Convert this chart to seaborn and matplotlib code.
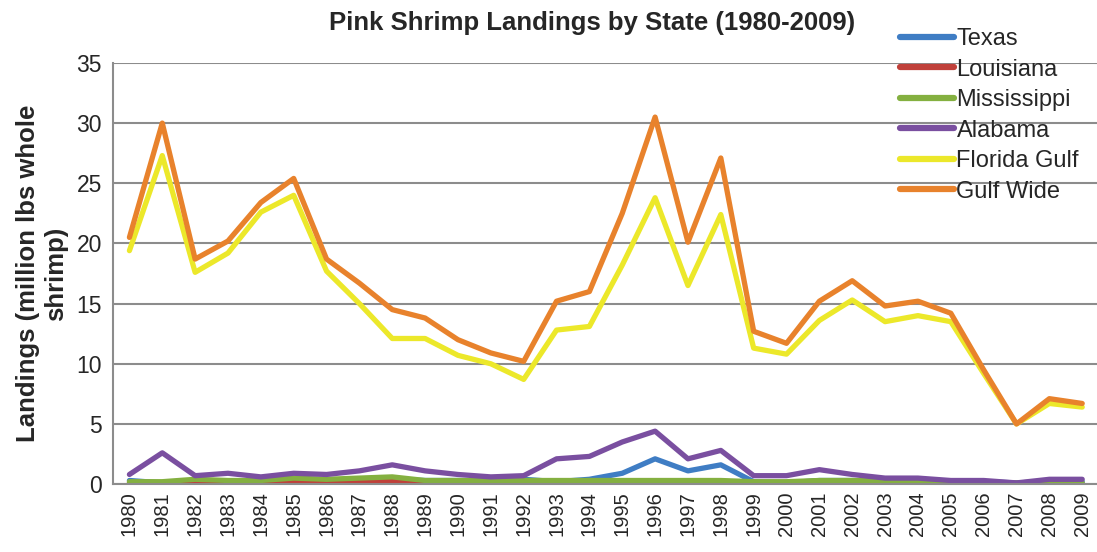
import numpy as np
import pandas as pd
import seaborn as sns
import matplotlib.pyplot as plt

years = list(range(1980, 2010))

texas = [0.3, 0.1, 0.2, 0.2, 0.2, 0.3, 0.2, 0.3, 0.4, 0.3, 0.3, 0.3, 0.4, 0.2, 0.4, 0.9,
         2.1, 1.1, 1.6, 0.2, 0.1, 0.3, 0.3, 0.2, 0.2, 0.2, 0.2, 0.1, 0.2, 0.2]
louisiana = [0.1, 0.0, 0.1, 0.1, 0.1, 0.3, 0.1, 0.2, 0.3, 0.1, 0.0, 0.0, 0.0, 0.0, 0.0, 0.0,
             0.1, 0.1, 0.1, 0.0, 0.0, 0.0, 0.0, 0.0, 0.0, 0.0, 0.0, 0.0, 0.0, 0.0]
mississippi = [0.2, 0.2, 0.4, 0.3, 0.3, 0.5, 0.4, 0.5, 0.6, 0.3, 0.3, 0.3, 0.3, 0.3, 0.3, 0.3,
               0.3, 0.3, 0.3, 0.2, 0.2, 0.3, 0.3, 0.3, 0.3, 0.2, 0.1, 0.1, 0.2, 0.1]
alabama = [0.8, 2.6, 0.7, 0.9, 0.6, 0.9, 0.8, 1.1, 1.6, 1.1, 0.8, 0.6, 0.7, 2.1, 2.3, 3.5,
           4.4, 2.1, 2.8, 0.7, 0.7, 1.2, 0.8, 0.5, 0.5, 0.3, 0.3, 0.1, 0.4, 0.4]
florida_gulf = [19.4, 27.3, 17.6, 19.2, 22.6, 24.0, 17.7, 15.0, 12.1, 12.1, 10.7, 10.0, 8.7,
                12.8, 13.1, 18.2, 23.8, 16.5, 22.4, 11.3, 10.8, 13.6, 15.3, 13.5, 14.0, 13.5,
                9.2, 5.0, 6.7, 6.4]
gulf_wide = [20.5, 30.0, 18.7, 20.2, 23.4, 25.4, 18.7, 16.7, 14.5, 13.8, 12.0, 10.9, 10.2,
             15.2, 16.0, 22.5, 30.5, 20.1, 27.1, 12.7, 11.7, 15.2, 16.9, 14.8, 15.2, 14.2,
             9.5, 5.0, 7.1, 6.7]

states = ["Texas", "Louisiana", "Mississippi", "Alabama", "Florida Gulf", "Gulf Wide"]
series = [texas, louisiana, mississippi, alabama, florida_gulf, gulf_wide]
colors = ["#3F7DC4", "#C0403A", "#84B040", "#7A4FA0", "#ECE82A", "#E8822C"]

rows = []
for name, vals in zip(states, series):
    for i, (y, v) in enumerate(zip(years, vals)):
        rows.append({"pos": i, "Year": y, "State": name, "Landings": v})
df = pd.DataFrame(rows)

sns.set_style("white")
plt.rcParams["font.family"] = ["Liberation Sans", "DejaVu Sans"]

fig = plt.figure(figsize=(10.97, 5.52), dpi=100)
ax = fig.add_axes([0.103, 0.123, 0.897, 0.763])

sns.lineplot(data=df, x="pos", y="Landings", hue="State", hue_order=states,
             palette=colors, linewidth=3.8, ax=ax)

ax.set_xlim(-0.5, 29.45)
ax.set_ylim(0, 35)
ax.set_yticks(range(0, 36, 5))
ax.set_xticks(range(len(years)))
ax.set_xticklabels([str(y) for y in years], rotation=90, fontsize=14.5)
ax.tick_params(axis="y", labelsize=16.5, length=0, pad=8)
ax.tick_params(axis="x", length=0, pad=5)
ax.yaxis.grid(True, color="#8c8c8c", linewidth=1.5)
ax.set_axisbelow(True)
for s in ["top", "right"]:
    ax.spines[s].set_visible(False)
ax.spines["left"].set_color("#8c8c8c")
ax.spines["left"].set_linewidth(1.5)
ax.spines["bottom"].set_color("#8c8c8c")
ax.spines["bottom"].set_linewidth(1.5)

ax.set_xlabel("")
ax.set_ylabel("Landings (million lbs whole\nshrimp)", fontsize=18.5, fontweight="bold", labelpad=6)
fig.text(0.54, 0.958, "Pink Shrimp Landings by State (1980-2009)", ha="center", va="center",
         fontsize=18.5, fontweight="bold")

leg = ax.legend(loc="upper left", bbox_to_anchor=(0.79, 1.105), frameon=False, fontsize=17,
                handlelength=2.3, handletextpad=0.1, labelspacing=0.36, borderaxespad=0)
for line in leg.get_lines():
    line.set_linewidth(4.5)

fig.savefig("out.png", dpi=100)
